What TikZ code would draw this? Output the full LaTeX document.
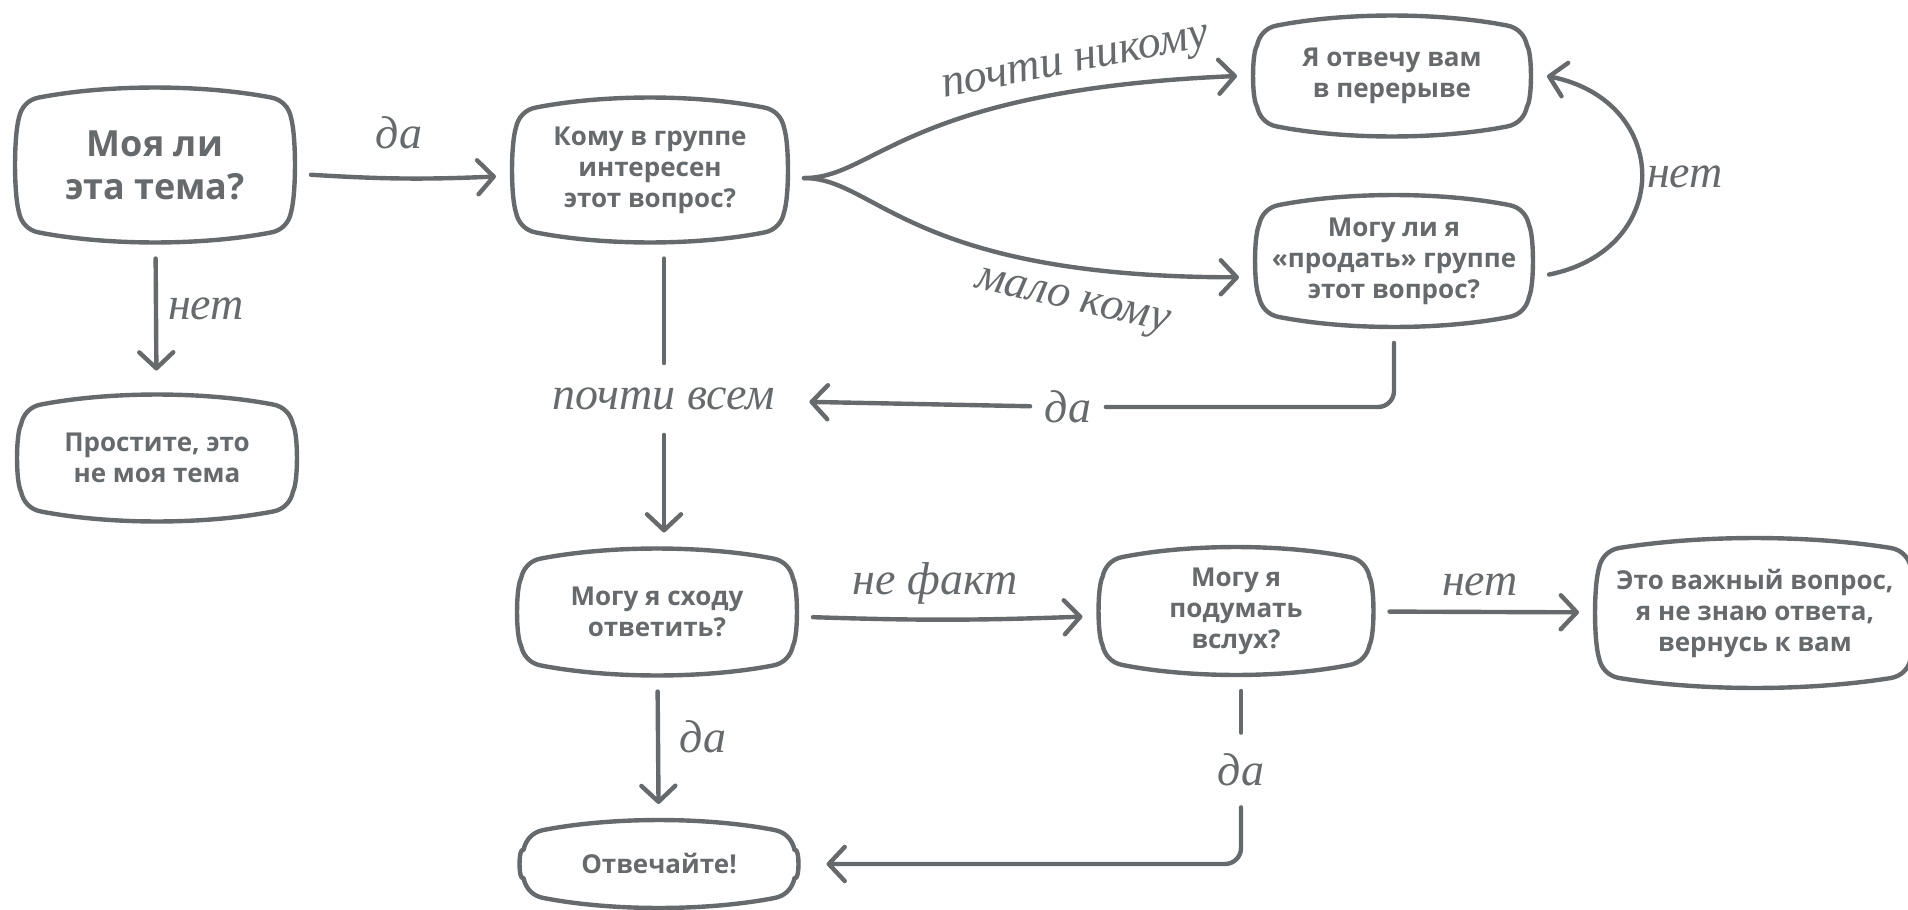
\documentclass[tikz,border=0pt]{standalone}
\usepackage{fontspec}
\setmainfont{Open Sans}
\newfontfamily\handfont{Liberation Serif}
\usetikzlibrary{positioning,calc,arrows.meta}

\definecolor{ink}{HTML}{666A6D}

\tikzset{
  box/.style={inner sep=0pt, outer sep=8pt, align=center, text=ink,
    font=\bfseries\fontsize{13}{15.5}\selectfont},
  bigbox/.style={box, font=\bfseries\fontsize{18}{21.5}\selectfont},
  boxline/.style={draw=ink, line width=2.2pt, line join=round},
  link/.style={draw=ink, line width=2.2pt, line cap=round},
  flow/.style={link, -{Straight Barb[length=8pt,width=17pt,round]}},
  hand/.style={text=ink, inner sep=0pt, font=\handfont\itshape\fontsize{23}{25}\selectfont},
}

% screen-like outline round a box node (anchors sit 16 units out)
\newcommand\tvbox[1]{%
  \draw[boxline] ($(#1.north west)+(20,46)$)
    .. controls ($(#1.north west)+(22,36)$) and ($(#1.north west)+(29,28)$) .. ($(#1.north west)+(40,26)$)
    .. controls ($(#1.north west)!0.35!(#1.north east)+(0,12.7)$) and ($(#1.north west)!0.65!(#1.north east)+(0,12.7)$) .. ($(#1.north east)+(-40,26)$)
    .. controls ($(#1.north east)+(-29,28)$) and ($(#1.north east)+(-22,36)$) .. ($(#1.north east)+(-20,46)$)
    .. controls ($(#1.north east)!0.35!(#1.south east)+(-14.7,0)$) and ($(#1.north east)!0.65!(#1.south east)+(-14.7,0)$) .. ($(#1.south east)+(-20,-46)$)
    .. controls ($(#1.south east)+(-22,-36)$) and ($(#1.south east)+(-29,-28)$) .. ($(#1.south east)+(-40,-26)$)
    .. controls ($(#1.south east)!0.35!(#1.south west)+(0,-12.7)$) and ($(#1.south east)!0.65!(#1.south west)+(0,-12.7)$) .. ($(#1.south west)+(40,-26)$)
    .. controls ($(#1.south west)+(29,-28)$) and ($(#1.south west)+(22,-36)$) .. ($(#1.south west)+(20,-46)$)
    .. controls ($(#1.south west)!0.35!(#1.north west)+(14.7,0)$) and ($(#1.south west)!0.65!(#1.north west)+(14.7,0)$) .. cycle;}

\begin{document}
\begin{tikzpicture}[x=0.5pt, y=-0.5pt]
    % Canvas
    \useasboundingbox (0,0) rectangle (1908,910);
    \fill[white] (0,0) rectangle (1908,910);

    % Boxes
    \node[bigbox, minimum width=140pt, minimum height=77.5pt] (theme) at (155,165) {Моя ли\\эта тема?};
    \node[box, minimum width=140pt, minimum height=63.5pt] (sorry) at (157,458) {Простите, это\\не моя тема};
    \node[box, minimum width=138pt, minimum height=72.5pt] (who) at (650,170) {Кому в группе\\интересен\\этот вопрос?};
    \node[box, minimum width=139pt, minimum height=60.5pt] (later) at (1392,76) {Я отвечу вам\\в перерыве};
    \node[box, minimum width=139pt, minimum height=66pt] (sell) at (1394,261) {Могу ли я\\«продать» группе\\этот вопрос?};
    \node[box, minimum width=140pt, minimum height=63.5pt] (now) at (657,612) {Могу я сходу\\ответить?};
    \node[box, minimum width=139.5pt, minimum height=44pt] (answer) at (659,864) {Отвечайте!};
    \node[box, minimum width=137.5pt, minimum height=64pt] (aloud) at (1236,611) {Могу я\\подумать\\вслух?};
    \node[box, minimum width=160pt, minimum height=75pt] (important) at (1755,613) {Это важный вопрос,\\я не знаю ответа,\\вернусь к вам};
    \tvbox{theme} \tvbox{sorry} \tvbox{who} \tvbox{later} \tvbox{sell}
    \tvbox{now} \tvbox{answer} \tvbox{aloud} \tvbox{important}

    % First question
    \draw[flow] (theme) to[bend right=3] (who);
    \node[hand] (yes1) at (399,133) {да};
    \draw[flow, shorten >=4pt] (theme) -- (sorry);
    \node[hand] (no1) at (206,309) {нет};

    % Who cares
    \draw[flow] (who.-3) .. controls +(72,0) and +(-333,14) .. (later.west);
    \draw[flow] (who.-3) .. controls +(72,0) and +(-330,0) .. (sell.186);
    \node[hand, rotate=11] (few0) at (1076,66) {почти никому};
    \node[hand, rotate=-13] (few1) at (1072,304) {мало кому};

    \node[hand, minimum width=145pt, minimum height=35.5pt] (most) at (664,399) {почти всем};
    \draw[link] (who.south -| most) -- (most);
    \draw[flow] (most) -- (most |- now.north);

    % Selling it
    \node[hand, minimum width=37.5pt] (yes3) at (1068,407) {да};
    \draw[link, rounded corners=8pt] (sell.south) |- (yes3);
    \draw[flow] (yes3) -- (most);
    \draw[flow] (sell.-5) .. controls +(125,-25) and +(125,25) .. (later.east);
    \node[hand] (no2) at (1685,177) {нет};

    % Answering
    \draw[flow] (now) to[bend right=2] (aloud);
    \node[hand] (unsure) at (935,583) {не факт};
    \draw[flow] (aloud) -- (important);
    \node[hand] (no3) at (1480,585) {нет};
    \draw[flow] (now) -- (answer);
    \node[hand] (yes4) at (703,737) {да};
    \node[hand, minimum height=37pt] (yes6) at (1241,770) {да};
    \draw[link] (aloud.south -| yes6) -- (yes6);
    \draw[flow, rounded corners=8pt, shorten >=6pt] (yes6) |- (answer);
\end{tikzpicture}
\end{document}
